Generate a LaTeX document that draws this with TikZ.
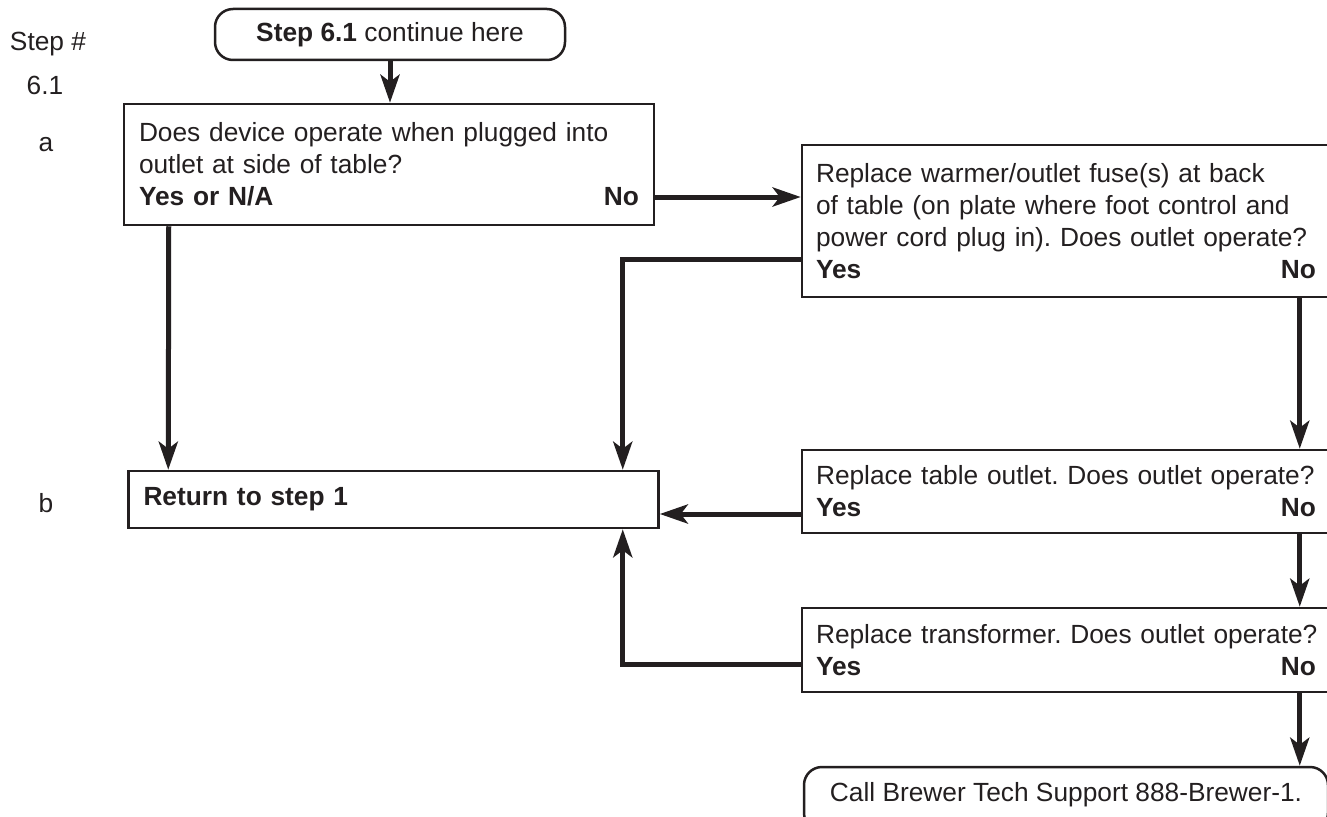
\documentclass[tikz,border=0pt]{standalone}
\usepackage{fontspec}
\setmainfont{Liberation Sans}
\usetikzlibrary{arrows.meta,calc}
\definecolor{ink}{RGB}{35,31,32}
\frenchspacing
\hyphenpenalty=10000
\exhyphenpenalty=10000
\tikzset{%
  >={Stealth[length=28pt,width=19pt,inset=7pt]},
  % Specifications for style of nodes:
            term/.style = {rectangle, rounded corners=18pt, draw=ink, line width=2.5pt,
                           text=ink, inner sep=0pt, align=center},
            qbox/.style = {rectangle, draw=ink, line width=2.5pt, text=ink,
                           inner xsep=15pt, inner ysep=0pt, text width=500pt, align=left},
            side/.style = {text=ink, inner sep=0pt},
            flow/.style = {draw=ink, line width=5pt}
                           }

\begin{document}
\begin{tikzpicture}[x=1pt, y=-1pt,
                every node/.style={font=\fontsize{26.3pt}{32pt}\selectfont}]
                    \useasboundingbox (0,0) rectangle (1327,816);

                    % step column
                    \node (steplbl) [side] at (48,44)   {Step \#};
                    \node (stepnum) [side] at (45,85)   {6.1};
                    \node (rowa)    [side] at (46,145)  {a};
                    \node (rowb)    [side] at (46,503)  {b};

                    \node (start)  [term, minimum width=350pt, minimum height=51pt] at (390,34.5)
                                   {\textbf{Step 6.1} continue here};
                    \node (devq)   [qbox, minimum height=121pt] at (389,164.5)
                                   {Does device operate when plugged into\\ outlet at side of table?\\
                                    \textbf{Yes or N/A}\hfill\textbf{No}};
                    \node (fuse)   [qbox, inner xsep=14pt, minimum height=152pt] at (1066,221)
                                   {Replace warmer/outlet fuse(s) at back\\ of table (on plate where foot control and\\
                                    \mbox{power cord plug in). Does outlet operate?}\\ \textbf{Yes}\hfill\textbf{No}};
                    \node (back)   [qbox, minimum height=57pt] at (393.5,499.5)
                                   {\textbf{Return to step 1}};
                    \node (outlet) [qbox, inner xsep=14pt, minimum height=83pt] at (1066,491.5)
                                   {\mbox{Replace table outlet. Does outlet operate?}\\ \textbf{Yes}\hfill\textbf{No}};
                    \node (xfmr)   [qbox, inner xsep=14pt, minimum height=84pt] at (1066,650)
                                   {\mbox{Replace transformer. Does outlet operate?}\\ \textbf{Yes}\hfill\textbf{No}};
                    % runs off the bottom edge of the page
                    \node (call)   [term, minimum width=524pt, text height=34pt, text depth=30pt] at (1066,799)
                                   {Call Brewer Tech Support 888-Brewer-1.};

                    \draw[flow, ->] (start.south) -- (start.south |- devq.north);
                    \draw[flow, ->] ([xshift=46pt]devq.south west) -- ([xshift=41pt]back.north west);
                    \draw[flow, ->] ([yshift=-32.5pt]devq.east) -- ([yshift=24pt]fuse.west);
                    \draw[flow, ->] ([yshift=-38pt]fuse.west) -| ([xshift=-37pt]back.north east);
                    \draw[flow, ->] ([xshift=499pt]fuse.south west) -- ([xshift=499pt]outlet.north west);
                    \draw[flow, ->] ([yshift=-22.5pt]outlet.west) -- ([yshift=-14.5pt]back.east);
                    \draw[flow, ->] ([xshift=499pt]outlet.south west) -- ([xshift=499pt]xfmr.north west);
                    \draw[flow, ->] ([yshift=-14pt]xfmr.west) -| ([xshift=-37pt]back.south east);
                    \draw[flow, ->] ([xshift=499pt]xfmr.south west) -- ([xshift=497pt]call.north west);
                \end{tikzpicture}
\end{document}
